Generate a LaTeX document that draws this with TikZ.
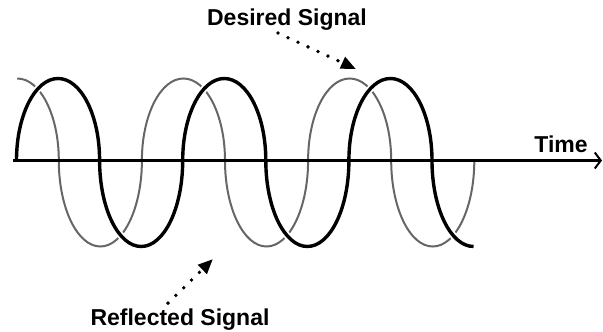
\documentclass[tikz,border=0pt]{standalone}
\usepackage{fontspec}
\setmainfont{Liberation Sans}
\usetikzlibrary{arrows.meta}
\begin{document}
\begin{tikzpicture}[x=1pt,y=1pt,
  lbl/.style={font=\bfseries\fontsize{23}{26}\selectfont, inner sep=0pt, anchor=base},
  thickwave/.style={line width=3.4pt, black, preaction={draw=white, line width=7pt}},
  thinwave/.style={line width=2pt, black!60},
  pointer/.style={line width=3.8pt, line cap=round, dash pattern=on 0pt off 11pt, -{Triangle[length=15pt,width=12pt]}},
  axisline/.style={line width=2.6pt, -{Straight Barb[length=6pt,width=16pt,line width=2pt]}},
  ua/.style={start angle=180,end angle=0,x radius=41.55,y radius=82},
  la/.style={start angle=180,end angle=360,x radius=41.55,y radius=86}]
\useasboundingbox (0,0) rectangle (603,332);
% reflected signal (thin)
\draw[thinwave] (17.25,253.5) arc[start angle=90,end angle=0,x radius=41.55,y radius=82]
  arc[la] arc[ua] arc[la] arc[ua] arc[la];
% desired signal (thick)
\draw[thickwave] (16.5,171.5) arc[ua] arc[la] arc[ua] arc[la] arc[ua]
  arc[start angle=180,end angle=270,x radius=41.55,y radius=86];
% time axis
\coordinate (a0) at (13,171.5);
\coordinate (a1) at (602,171.5);
\draw[axisline] (a0) -- (a1);
% labels
\node[lbl] (des) at (287,306) {Desired Signal};
\node[lbl] (ref) at (180,6) {Reflected Signal};
\node[lbl] (time) at (561,179) {Time};
\coordinate (dtip) at (356,263);
\coordinate (rtip) at (213,73);
\draw[pointer] ([xshift=-9pt,yshift=-2pt]des.south) -- (dtip);
\draw[pointer] ([xshift=-12pt,yshift=6pt]ref.north) -- (rtip);
\end{tikzpicture}
\end{document}
